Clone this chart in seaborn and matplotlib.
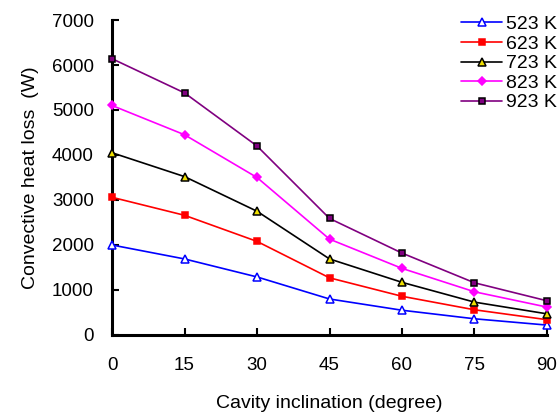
import matplotlib
matplotlib.use("Agg")
import matplotlib.pyplot as plt
import seaborn as sns
import pandas as pd

inclination = [0, 15, 30, 45, 60, 75, 90]
loss_523 = [2000, 1690, 1290, 800, 550, 360, 220]
loss_623 = [3060, 2660, 2080, 1270, 860, 560, 340]
loss_723 = [4050, 3520, 2750, 1690, 1170, 730, 470]
loss_823 = [5100, 4450, 3500, 2130, 1480, 960, 620]
loss_923 = [6140, 5380, 4200, 2590, 1820, 1160, 760]
series_labels = ["523 K", "623 K", "723 K", "823 K", "923 K"]
y_ticks = [0, 1000, 2000, 3000, 4000, 5000, 6000, 7000]
x_ticks = [0, 15, 30, 45, 60, 75, 90]

sns.set_theme(style="white")
plt.rcParams["font.family"] = ["Liberation Sans", "DejaVu Sans"]
plt.rcParams["text.color"] = "black"
plt.rcParams["axes.labelcolor"] = "black"
plt.rcParams["xtick.color"] = "black"
plt.rcParams["ytick.color"] = "black"

df = pd.concat([
    pd.DataFrame({"inclination": inclination, "loss": vals, "T": lab})
    for vals, lab in zip([loss_523, loss_623, loss_723, loss_823, loss_923], series_labels)
])

styles = {
    "523 K": dict(color="#0000ff", marker="^", mfc="white", mec="#0000ff", ms=5.5),
    "623 K": dict(color="#ff0000", marker="s", mfc="#ff0000", mec="#ff0000", ms=4.5),
    "723 K": dict(color="#000000", marker="^", mfc="#f0e000", mec="#000000", ms=5.5),
    "823 K": dict(color="#ff00ff", marker="D", mfc="#ff00ff", mec="#ff00ff", ms=4.5),
    "923 K": dict(color="#800080", marker="s", mfc="#800080", mec="#000000", ms=4.5),
}

fig = plt.figure(figsize=(5.59, 4.15), dpi=100)
ax = fig.add_axes([0.2004, 0.1928, 0.7781, 0.759])

for lab in series_labels:
    st = styles[lab]
    sub = df[df["T"] == lab]
    sns.lineplot(data=sub, x="inclination", y="loss", ax=ax, color=st["color"],
                 linewidth=1.2, marker=st["marker"], markersize=st["ms"],
                 markerfacecolor=st["mfc"], markeredgecolor=st["mec"],
                 markeredgewidth=1.1, label=lab, clip_on=False, zorder=3)

ax.set_xlim(0, 90)
ax.set_ylim(0, 7000)
ax.set_xticks(x_ticks)
ax.set_yticks(y_ticks)
ax.tick_params(axis="both", direction="in", length=5, width=1.5, labelsize=13.5,
               colors="black", bottom=True, left=True)
ax.tick_params(axis="x", pad=16)
ax.tick_params(axis="y", pad=13)
for side in ["top", "right"]:
    ax.spines[side].set_visible(False)
for side in ["left", "bottom"]:
    ax.spines[side].set_linewidth(2.2)
    ax.spines[side].set_color("black")

ax.set_xlabel("Cavity inclination (degree)", fontsize=14, labelpad=15)
ax.set_ylabel("Convective heat loss  (W)", fontsize=14, labelpad=9)

leg = ax.legend(loc="upper right", bbox_to_anchor=(1.01, 0.981),
                bbox_transform=fig.transFigure, frameon=False, fontsize=14,
                handlelength=2.1, handletextpad=0.2, labelspacing=0.1,
                borderaxespad=0.2, borderpad=0.2)

fig.savefig("out.png", dpi=100)
